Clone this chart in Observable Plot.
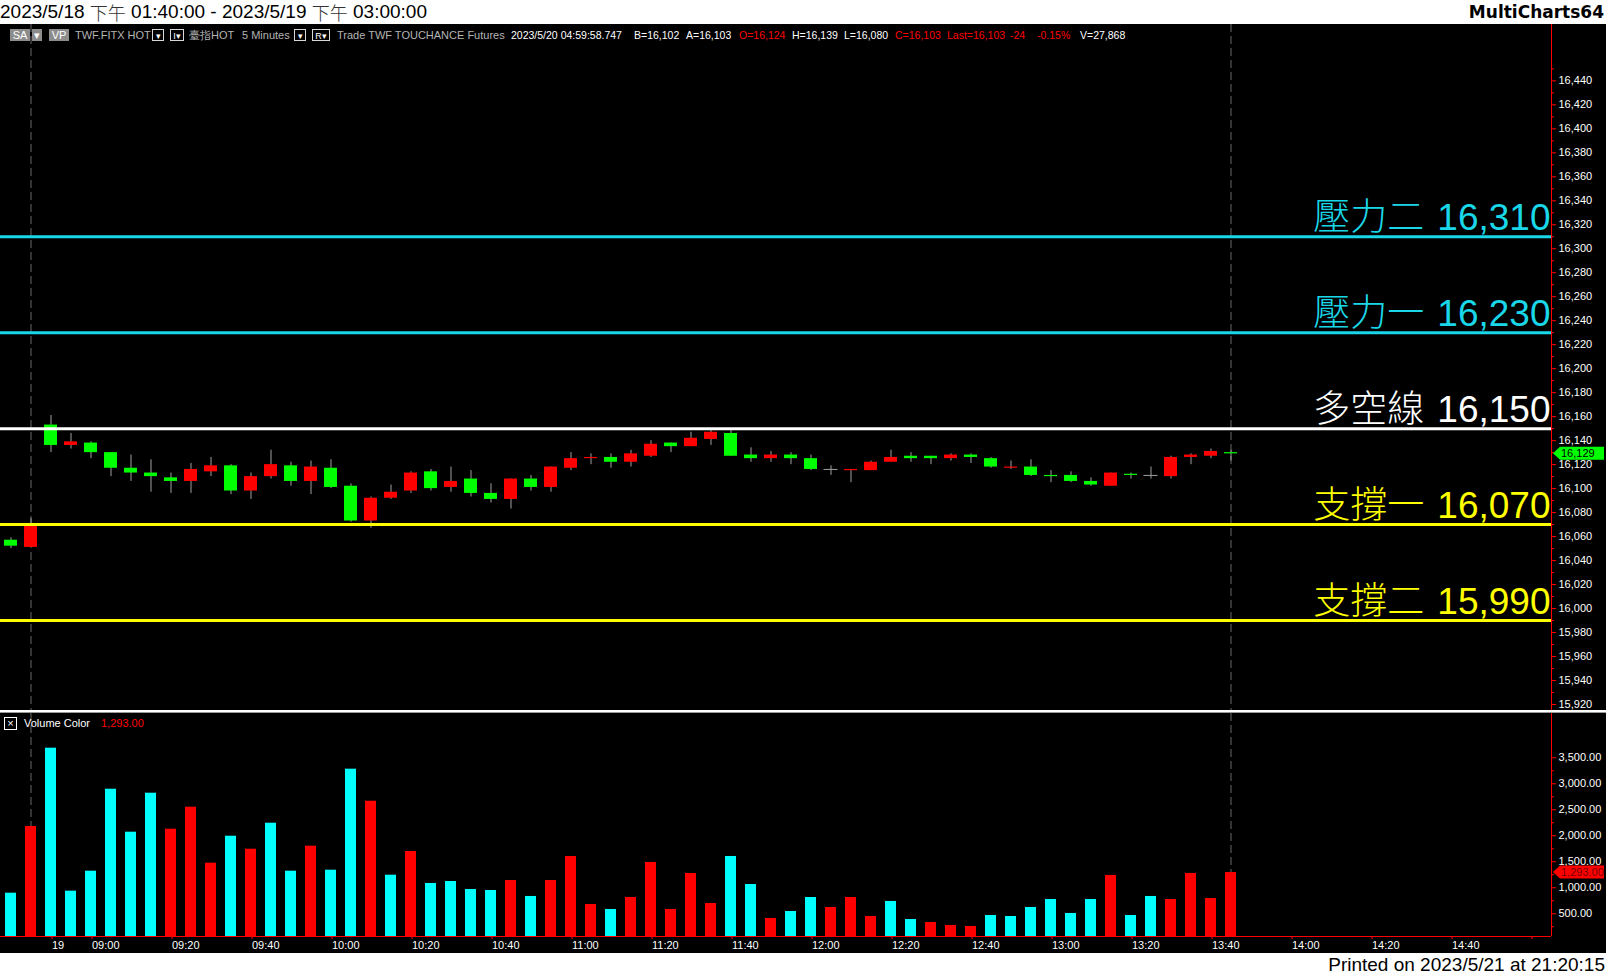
<!DOCTYPE html>
<html><head><meta charset="utf-8">
<script src="https://cdn.jsdelivr.net/npm/d3@7"></script>
<script src="https://cdn.jsdelivr.net/npm/@observablehq/plot@0.6"></script>
<style>
html,body{margin:0;padding:0;background:#fff;}
#wrap{position:relative;width:1606px;height:976px;overflow:hidden;background:#fff;font-family:"Liberation Sans",Arial,sans-serif;}
#title{position:absolute;left:0;top:1px;height:22px;line-height:22px;font-size:19px;color:#000;white-space:nowrap;}
#title .cj{font-family:"Noto Sans CJK TC",sans-serif;font-weight:300;color:#333;font-size:18px;display:inline-block;line-height:20px;vertical-align:top;margin-top:1px;}
#brand{position:absolute;right:2px;top:1px;height:22px;line-height:22px;font-family:"DejaVu Sans",Verdana,sans-serif;font-weight:bold;font-size:17px;color:#000;}
#price{position:absolute;left:0;top:24px;}
#sep{position:absolute;left:0;top:710px;width:1606px;height:3px;background:#fff;border-bottom:1px solid #9a9a9a;box-sizing:border-box;}
#volume{position:absolute;left:0;top:713px;}
#printed{position:absolute;right:1px;top:953px;height:23px;line-height:23px;font-size:19px;color:#000;white-space:nowrap;}
.info{position:absolute;top:29px;height:12px;line-height:12px;font-size:10.5px;white-space:nowrap;}
.g{color:#b4b4b4;font-size:11px;}.w{color:#ffffff;}.r{color:#ff0000;}
.gb{background:#8c8c8c;color:#fff;text-align:center;font-size:11px;}
.bb{border:1px solid #d8d8d8;box-sizing:border-box;color:#fff;text-align:center;font-size:9px;}
#vleg{position:absolute;left:4px;top:717px;font-size:11px;height:13px;line-height:13px;white-space:nowrap;}
</style></head><body><div id="wrap">
<div id="title">2023/5/18 <span class="cj">下午</span> 01:40:00 - 2023/5/19 <span class="cj">下午</span> 03:00:00</div>
<div id="brand">MultiCharts64</div>
<div id="price"></div>
<div id="sep"></div>
<div id="volume"></div>
<div id="printed">Printed on 2023/5/21 at 21:20:15</div>
</div>
<script>
// ---------- data ----------
const opens  = [16057,16051,16153,16136,16138,16130,16117,16113,16109,16106,
                16114,16119,16098,16110,16119,16106,16117,16102,16073,16092,
                16098,16114,16101,16108,16096,16091,16108,16101,16117,16125,
                16126,16122,16127,16138,16135,16141,16146,16128,16125,16128,
                16125,16116,16115,16115,16122,16127,16127,16125,16128,16125,
                16117,16118,16111,16111,16106,16102,16112,16111,16110,16126,
                16127,16130];
const highs  = [16059,16075,16161,16146,16139,16130,16128,16124,16113,16121,
                16126,16120,16113,16132,16122,16123,16124,16104,16093,16103,
                16114,16116,16118,16115,16104,16108,16111,16118,16130,16129,
                16129,16132,16140,16138,16147,16149,16150,16134,16131,16130,
                16128,16119,16116,16123,16132,16130,16127,16129,16129,16126,
                16123,16124,16115,16114,16109,16113,16113,16118,16127,16129,
                16133,16132];
const lows   = [16050,16051,16130,16133,16125,16110,16106,16097,16096,16096,
                16110,16095,16091,16108,16102,16095,16100,16072,16067,16091,
                16096,16098,16097,16093,16088,16083,16098,16097,16115,16120,
                16117,16118,16126,16130,16135,16136,16127,16122,16122,16120,
                16115,16111,16105,16115,16122,16122,16120,16123,16121,16117,
                16116,16110,16105,16105,16102,16102,16108,16108,16108,16120,
                16125,16123];
const closes = [16052,16070,16136,16139,16130,16117,16113,16110,16106,16116,
                16119,16098,16110,16120,16106,16118,16101,16073,16092,16097,
                16113,16100,16106,16096,16091,16108,16101,16118,16125,16126,
                16122,16129,16137,16135,16142,16147,16127,16125,16128,16125,
                16116,16116,16116,16122,16126,16125,16125,16128,16126,16118,
                16118,16111,16110,16106,16103,16113,16111,16111,16126,16128,
                16131,16129];
const volumes = [896,2179,3685,935,1319,2896,2069,2819,2127,2550,
                 1473,1992,1742,2242,1319,1800,1338,3281,2665,1242,
                 1698,1083,1121,967,948,1140,833,1140,1602,679,
                 583,813,1487,583,1275,698,1602,1063,410,544,
                 813,621,813,448,737,390,333,275,256,467,
                 448,621,775,506,775,1237,467,833,775,1275,
                 794,1293];
const volumeSide = ["sell","buy","sell","sell","sell","sell","sell","sell","buy","buy",
                    "buy","sell","buy","sell","sell","buy","sell","sell","buy","sell",
                    "buy","sell","sell","sell","sell","buy","sell","buy","buy","buy",
                    "sell","buy","buy","buy","buy","buy","sell","sell","buy","sell",
                    "sell","buy","buy","buy","sell","sell","buy","buy","buy","sell",
                    "sell","sell","sell","sell","sell","buy","sell","sell","buy","buy",
                    "buy","buy"];
const levelNames  = ["壓力二","壓力一","多空線","支撐一","支撐二"];
const levelValues = [16310,16230,16150,16070,15990];
const levelKinds  = ["resistance","resistance","pivot","support","support"];
const sessionBars = [2,62];
const priceTickValues = [15920,15940,15960,15980,16000,16020,16040,16060,16080,16100,16120,16140,16160,16180,
                         16200,16220,16240,16260,16280,16300,16320,16340,16360,16380,16400,16420,16440];
const volumeTickValues = [500,1000,1500,2000,2500,3000,3500];
const timeTickBars   = [3,5,9,13,17,21,25,29,33,37,41,45,49,53,57,61,65,69,73,77];
const timeTickLabels = ["19","09:00","09:20","09:40","10:00","10:20","10:40","11:00","11:20","11:40",
                        "12:00","12:20","12:40","13:00","13:20","13:40","14:00","14:20","14:40",""];

// ---------- tables ----------
const bars = opens.map((o,i)=>({k:i+1,o,h:highs[i],l:lows[i],c:closes[i],v:volumes[i],side:volumeSide[i]}));
const levels = levelValues.map((v,i)=>({value:v,name:levelNames[i],kind:levelKinds[i]}));
const kindColor = {resistance:"#19d7e8",pivot:"#ffffff",support:"#ffff00"};
const sideColor = {buy:"#ff0000",sell:"#00ffff"};
const candleColor = d => d.c>d.o ? "#ff0000" : "#00ff00";

const W = 1606, MR = 55;
const xDomain = [0.475, 78.025];
const priceDomain = [15915, 16487];
const volumeDomain = [63, 4352];
const wick = "#a0a0a0";
const dash = {stroke:"#686868", strokeDasharray:"8,4"};
const baseStyle = {background:"#000", color:"#fff", fontFamily:"'Liberation Sans', Arial, sans-serif", fontSize:"11px", overflow:"visible"};

// level digit font measuring
const cv = document.createElement("canvas").getContext("2d");
let digitFont = "'Liberation Sans Narrow', 'Liberation Sans', sans-serif", digitSize = 45;
cv.font = `${digitSize}px ${digitFont}`;
let dw = cv.measureText("16,310").width;
if (dw > 125) { digitSize = 37; cv.font = `${digitSize}px ${digitFont}`; dw = cv.measureText("16,310").width; }

const last = bars[bars.length-1];

const pricePlot = Plot.plot({
  width: W, height: 686,
  marginLeft: 0, marginRight: MR, marginTop: 0, marginBottom: 0,
  style: baseStyle,
  x: {domain: xDomain, axis: null, label: null},
  y: {domain: priceDomain, axis: null, label: null},
  marks: [
    Plot.ruleX(sessionBars, {x: d=>d, ...dash}),
    Plot.ruleX(bars, {x:"k", y1:"l", y2:"h", stroke: wick, strokeWidth: 1}),
    Plot.rect(bars.filter(d=>d.o!==d.c), {x1: d=>d.k-0.325, x2: d=>d.k+0.325, y1:"o", y2:"c", fill: candleColor}),
    Plot.ruleY(bars.filter(d=>d.o===d.c), {y:"c", x1: d=>d.k-0.35, x2: d=>d.k+0.35, stroke: wick}),
    Plot.ruleY(levels, {y:"value", stroke: d=>kindColor[d.kind], strokeWidth: 3}),
    Plot.text(levels, {y:"value", frameAnchor:"right", text: d=>d3.format(",")(d.value), textAnchor:"end", lineAnchor:"bottom", dx:-1, dy:-7,
      fill: d=>kindColor[d.kind], fontSize: digitSize, fontFamily: digitFont}),
    Plot.text(levels, {y:"value", frameAnchor:"right", text:"name", textAnchor:"end", lineAnchor:"bottom", dx: -(dw+14), dy:-7,
      fill: d=>kindColor[d.kind], fontSize: 37, fontFamily: "'Noto Sans CJK TC', sans-serif", fontWeight: 300}),
    Plot.ruleX([xDomain[1]], {x: d=>d, stroke:"#ff0000"}),
    Plot.axisY(priceTickValues, {anchor:"right", label: null, tickSize:4, tickPadding:3, stroke:"#ff0000", fill:"#ffffff", tickFormat: d3.format(",")}),
    Plot.axisY(priceTickValues.map(t=>t+10), {anchor:"right", label: null, tickSize:2, stroke:"#ff0000", tickFormat: ()=>""})
  ]
});
document.getElementById("price").append(pricePlot);

const volumePlot = Plot.plot({
  width: W, height: 240,
  marginLeft: 0, marginRight: MR, marginTop: 0, marginBottom: 17,
  style: baseStyle,
  x: {domain: xDomain, axis: null, label: null},
  y: {domain: volumeDomain, axis: null, label: null},
  marks: [
    Plot.ruleX(sessionBars, {x: d=>d, ...dash}),
    Plot.rect(bars, {x1: d=>d.k-0.275, x2: d=>d.k+0.275, y1: 0, y2:"v", fill: d=>sideColor[d.side], clip: true}),
    Plot.ruleY([volumeDomain[0]], {y: d=>d, stroke:"#ff0000"}),
    Plot.ruleX([xDomain[1]], {x: d=>d, stroke:"#ff0000"}),
    Plot.axisY(volumeTickValues, {anchor:"right", label: null, tickSize:4, tickPadding:3, stroke:"#ff0000", fill:"#ffffff", tickFormat: d3.format(",.2f")}),
    Plot.axisY(volumeTickValues.map(t=>t-250), {anchor:"right", label: null, tickSize:2, stroke:"#ff0000", tickFormat: ()=>""}),
    Plot.axisX(timeTickBars, {anchor:"bottom", label: null, tickSize:3, tickPadding:2, stroke:"#ff0000", fill:"#ffffff", textAnchor:"start", dx:1,
      tickFormat: (d)=> timeTickLabels[timeTickBars.indexOf(d)]})
  ]
});
document.getElementById("volume").append(volumePlot);

// last-value markers on the right axes, placed with the plots' own scales
function marker(plot, value, label, bg, fg) {
  const y = plot.scale("y").apply(value);
  const x0 = plot.scale("x").apply(xDomain[1]);
  const svg = d3.select(plot.tagName === "svg" ? plot : plot.querySelector("svg"));
  svg.append("path")
    .attr("d", `M${x0+2},${y} L${x0+9},${y-6.5} L${W-2},${y-6.5} L${W-2},${y+6.5} L${x0+9},${y+6.5} Z`)
    .attr("fill", bg);
  svg.append("text").attr("x", x0+10).attr("y", y).attr("dy","0.36em").attr("text-anchor","start")
    .attr("fill", fg).attr("font-size", 11).attr("font-family", "'Liberation Sans', Arial, sans-serif").text(label);
}
marker(pricePlot, last.c, d3.format(",")(last.c), "#00ff00", "#000000");
marker(volumePlot, last.v, d3.format(",.2f")(last.v), "#ff0000", "#7a0000");

// header info bar and volume legend
const wrap = document.getElementById("wrap");
const info = [
  ["SA",10,"gb",20],["▾",32,"gb",10],["VP",49,"gb",20],["TWF.FITX HOT",75,"g"],["▾",152,"bb",12],["I▾",170,"bb",14],
  ["臺指HOT",189,"g"],["5 Minutes",242,"g"],["▾",294,"bb",12],["R▾",312,"bb",18],["Trade TWF TOUCHANCE Futures",337,"g"],
  ["2023/5/20 04:59:58.747",511,"w"],["B=16,102",634,"w"],["A=16,103",686,"w"],["O=16,124",739,"r"],["H=16,139",792,"w"],
  ["L=16,080",844,"w"],["C=16,103",895,"r"],["Last=16,103",947,"r"],["-24",1010,"r"],["-0.15%",1037,"r"],["V=27,868",1080,"w"]
];
for (const [t,x,c,w] of info) {
  const s = document.createElement("div");
  s.className = "info " + c; s.textContent = t; s.style.left = x+"px";
  if (w) s.style.width = w+"px";
  wrap.append(s);
}
const vl = document.createElement("div");
vl.id = "vleg";
vl.innerHTML = '<span style="display:inline-block;width:13px;height:13px;border:1px solid #fff;box-sizing:border-box;color:#fff;text-align:center;line-height:10px;font-size:11px;vertical-align:top">×</span>'
 + '<span style="position:absolute;left:20px;color:#fff">Volume Color</span>'
 + '<span style="position:absolute;left:97px;color:#ff0000">1,293.00</span>';
wrap.append(vl);
</script>
</body></html>
